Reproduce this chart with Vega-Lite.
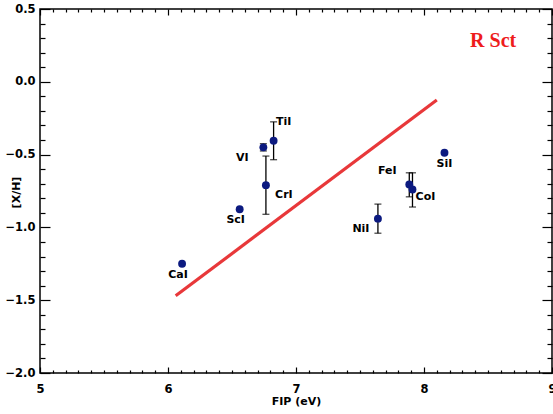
{
  "$schema": "https://vega.github.io/schema/vega-lite/v6.json",
  "width": 512,
  "height": 364,
  "autosize": {"type": "none"},
  "padding": {"left": 40, "top": 9, "right": 1, "bottom": 41},
  "background": "white",
  "datasets": {
    "stars": [
      {"el": "CaI", "fip": 6.11, "xh": -1.25},
      {"el": "ScI", "fip": 6.56, "xh": -0.875},
      {"el": "VI", "fip": 6.745, "xh": -0.45, "lo": -0.475, "hi": -0.425},
      {"el": "TiI", "fip": 6.825, "xh": -0.405, "lo": -0.535, "hi": -0.275},
      {"el": "CrI", "fip": 6.765, "xh": -0.71, "lo": -0.91, "hi": -0.51},
      {"el": "FeI", "fip": 7.885, "xh": -0.705, "lo": -0.79, "hi": -0.625},
      {"el": "CoI", "fip": 7.91, "xh": -0.74, "lo": -0.86, "hi": -0.625},
      {"el": "NiI", "fip": 7.64, "xh": -0.94, "lo": -1.04, "hi": -0.84},
      {"el": "SiI", "fip": 8.16, "xh": -0.487}
    ],
    "fit": [
      {"fip": 6.06, "xh": -1.47},
      {"fip": 8.10, "xh": -0.125}
    ],
    "note": [
      {"fip": 8.54, "xh": 0.28, "label": "R Sct"}
    ]
  },
  "resolve": {"axis": {"x": "independent", "y": "independent"}},
  "layer": [
    {
      "data": {"name": "fit"},
      "mark": {"type": "line", "color": "#e8383a", "strokeWidth": 3.2},
      "encoding": {
        "x": {"field": "fip", "type": "quantitative", "scale": {"domain": [5, 9], "nice": false, "zero": false},
          "axis": {"orient": "bottom", "values": [5, 6, 7, 8, 9], "format": "d", "tickSize": -6, "labelPadding": 16, "labelFlush": false, "labelOverlap": false, "title": "FIP (eV)", "titleY": 28, "titleBaseline": "middle"}},
        "y": {"field": "xh", "type": "quantitative", "scale": {"domain": [-2, 0.5], "nice": false, "zero": false},
          "axis": {"orient": "left", "values": [-2, -1.5, -1, -0.5, 0, 0.5], "format": ".1f", "tickSize": -10, "labelPadding": 15, "labelFlush": false, "labelOverlap": false, "title": "[X/H]", "titleX": -24, "titleY": 183, "titleBaseline": "middle"}}
      }
    },
    {
      "data": {"name": "stars"},
      "transform": [{"filter": "isValid(datum.lo)"}],
      "mark": {"type": "rule", "color": "black", "strokeWidth": 1.3},
      "encoding": {
        "x": {"field": "fip", "type": "quantitative", "scale": {"domain": [5, 9], "nice": false, "zero": false},
          "axis": {"orient": "top", "values": [5, 6, 7, 8, 9], "tickSize": -6, "labels": false, "title": null}},
        "y": {"field": "lo", "type": "quantitative", "scale": {"domain": [-2, 0.5], "nice": false, "zero": false},
          "axis": {"orient": "right", "values": [-2, -1.5, -1, -0.5, 0, 0.5], "tickSize": -10, "labels": false, "title": null}},
        "y2": {"field": "hi"}
      }
    },
    {
      "data": {"name": "stars"},
      "transform": [{"filter": "isValid(datum.lo)"}],
      "mark": {"type": "tick", "color": "black", "orient": "horizontal", "size": 7, "thickness": 1.3},
      "encoding": {
        "x": {"field": "fip", "type": "quantitative", "scale": {"domain": [5, 9], "nice": false, "zero": false},
          "axis": {"orient": "top", "values": [5.1, 5.2, 5.3, 5.4, 5.5, 5.6, 5.7, 5.8, 5.9, 6.1, 6.2, 6.3, 6.4, 6.5, 6.6, 6.7, 6.8, 6.9, 7.1, 7.2, 7.3, 7.4, 7.5, 7.6, 7.7, 7.8, 7.9, 8.1, 8.2, 8.3, 8.4, 8.5, 8.6, 8.7, 8.8, 8.9], "tickSize": -3, "labels": false, "title": null}},
        "y": {"field": "lo", "type": "quantitative", "scale": {"domain": [-2, 0.5], "nice": false, "zero": false},
          "axis": {"orient": "right", "values": [-1.9, -1.8, -1.7, -1.6, -1.4, -1.3, -1.2, -1.1, -0.9, -0.8, -0.7, -0.6, -0.4, -0.3, -0.2, -0.1, 0.1, 0.2, 0.3, 0.4], "tickSize": -5, "labels": false, "title": null}}
      }
    },
    {
      "data": {"name": "stars"},
      "transform": [{"filter": "isValid(datum.hi)"}],
      "mark": {"type": "tick", "color": "black", "orient": "horizontal", "size": 7, "thickness": 1.3},
      "encoding": {
        "x": {"field": "fip", "type": "quantitative", "axis": null},
        "y": {"field": "hi", "type": "quantitative", "axis": null}
      }
    },
    {
      "data": {"name": "stars"},
      "mark": {"type": "circle", "color": "#0c1a80", "opacity": 1, "size": 62},
      "encoding": {
        "x": {"field": "fip", "type": "quantitative", "scale": {"domain": [5, 9], "nice": false, "zero": false},
          "axis": {"orient": "bottom", "values": [5.1, 5.2, 5.3, 5.4, 5.5, 5.6, 5.7, 5.8, 5.9, 6.1, 6.2, 6.3, 6.4, 6.5, 6.6, 6.7, 6.8, 6.9, 7.1, 7.2, 7.3, 7.4, 7.5, 7.6, 7.7, 7.8, 7.9, 8.1, 8.2, 8.3, 8.4, 8.5, 8.6, 8.7, 8.8, 8.9], "tickSize": -3, "labels": false, "title": null}},
        "y": {"field": "xh", "type": "quantitative", "scale": {"domain": [-2, 0.5], "nice": false, "zero": false},
          "axis": {"orient": "left", "values": [-1.9, -1.8, -1.7, -1.6, -1.4, -1.3, -1.2, -1.1, -0.9, -0.8, -0.7, -0.6, -0.4, -0.3, -0.2, -0.1, 0.1, 0.2, 0.3, 0.4], "tickSize": -5, "labels": false, "title": null}}
      }
    },
    {
      "data": {"name": "note"},
      "mark": {"type": "text", "font": "Liberation Serif", "fontWeight": "bold", "fontSize": 20, "color": "#ee1c1c", "align": "center", "baseline": "middle"},
      "encoding": {
        "x": {"field": "fip", "type": "quantitative", "axis": null},
        "y": {"field": "xh", "type": "quantitative", "axis": null},
        "text": {"field": "label"}
      }
    },
    {
      "data": {"name": "stars"},
      "transform": [{"filter": "datum.el == 'CaI' || datum.el == 'ScI'"}],
      "mark": {"type": "text", "font": "DejaVu Sans", "fontWeight": "bold", "fontSize": 11, "color": "black", "align": "center", "baseline": "middle", "dx": -4, "dy": 11},
      "encoding": {"x": {"field": "fip", "type": "quantitative", "axis": null}, "y": {"field": "xh", "type": "quantitative", "axis": null}, "text": {"field": "el"}}
    },
    {
      "data": {"name": "stars"},
      "transform": [{"filter": "datum.el == 'SiI'"}],
      "mark": {"type": "text", "font": "DejaVu Sans", "fontWeight": "bold", "fontSize": 11, "color": "black", "align": "center", "baseline": "middle", "dx": 0, "dy": 11},
      "encoding": {"x": {"field": "fip", "type": "quantitative", "axis": null}, "y": {"field": "xh", "type": "quantitative", "axis": null}, "text": {"field": "el"}}
    },
    {
      "data": {"name": "stars"},
      "transform": [{"filter": "datum.el == 'VI'"}],
      "mark": {"type": "text", "font": "DejaVu Sans", "fontWeight": "bold", "fontSize": 11, "color": "black", "align": "center", "baseline": "middle", "dx": -21, "dy": 11},
      "encoding": {"x": {"field": "fip", "type": "quantitative", "axis": null}, "y": {"field": "xh", "type": "quantitative", "axis": null}, "text": {"field": "el"}}
    },
    {
      "data": {"name": "stars"},
      "transform": [{"filter": "datum.el == 'TiI'"}],
      "mark": {"type": "text", "font": "DejaVu Sans", "fontWeight": "bold", "fontSize": 11, "color": "black", "align": "center", "baseline": "middle", "dx": 10, "dy": -19},
      "encoding": {"x": {"field": "fip", "type": "quantitative", "axis": null}, "y": {"field": "xh", "type": "quantitative", "axis": null}, "text": {"field": "el"}}
    },
    {
      "data": {"name": "stars"},
      "transform": [{"filter": "datum.el == 'CrI'"}],
      "mark": {"type": "text", "font": "DejaVu Sans", "fontWeight": "bold", "fontSize": 11, "color": "black", "align": "center", "baseline": "middle", "dx": 18, "dy": 10},
      "encoding": {"x": {"field": "fip", "type": "quantitative", "axis": null}, "y": {"field": "xh", "type": "quantitative", "axis": null}, "text": {"field": "el"}}
    },
    {
      "data": {"name": "stars"},
      "transform": [{"filter": "datum.el == 'FeI'"}],
      "mark": {"type": "text", "font": "DejaVu Sans", "fontWeight": "bold", "fontSize": 11, "color": "black", "align": "center", "baseline": "middle", "dx": -22, "dy": -13},
      "encoding": {"x": {"field": "fip", "type": "quantitative", "axis": null}, "y": {"field": "xh", "type": "quantitative", "axis": null}, "text": {"field": "el"}}
    },
    {
      "data": {"name": "stars"},
      "transform": [{"filter": "datum.el == 'CoI'"}],
      "mark": {"type": "text", "font": "DejaVu Sans", "fontWeight": "bold", "fontSize": 11, "color": "black", "align": "center", "baseline": "middle", "dx": 13, "dy": 7},
      "encoding": {"x": {"field": "fip", "type": "quantitative", "axis": null}, "y": {"field": "xh", "type": "quantitative", "axis": null}, "text": {"field": "el"}}
    },
    {
      "data": {"name": "stars"},
      "transform": [{"filter": "datum.el == 'NiI'"}],
      "mark": {"type": "text", "font": "DejaVu Sans", "fontWeight": "bold", "fontSize": 11, "color": "black", "align": "center", "baseline": "middle", "dx": -17, "dy": 10},
      "encoding": {"x": {"field": "fip", "type": "quantitative", "axis": null}, "y": {"field": "xh", "type": "quantitative", "axis": null}, "text": {"field": "el"}}
    }
  ],
  "config": {
    "view": {"stroke": "black", "strokeWidth": 1.5},
    "axis": {
      "domain": false,
      "grid": false,
      "tickColor": "black",
      "tickWidth": 1.2,
      "labelFont": "DejaVu Sans",
      "labelFontWeight": "bold",
      "labelFontSize": 11.5,
      "labelColor": "black",
      "titleFont": "DejaVu Sans",
      "titleFontWeight": "bold",
      "titleFontSize": 11,
      "titleColor": "black"
    }
  }
}
